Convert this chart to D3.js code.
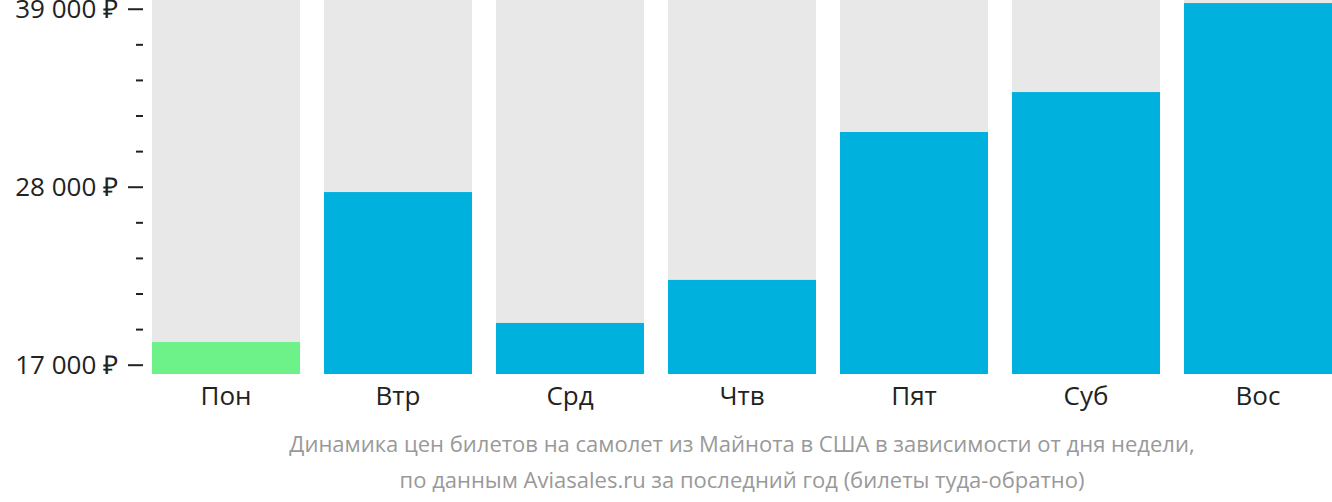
<!DOCTYPE html>
<html>
<head>
<meta charset="utf-8">
<script src="https://cdn.jsdelivr.net/npm/d3@7"></script>
<style>
  html, body { margin: 0; padding: 0; background: #fff; }
  svg { display: block; font-family: "Open Sans", sans-serif; }
</style>
</head>
<body>
<svg id="chart" width="1332" height="502"></svg>
<script>
const categories = ["Пон", "Втр", "Срд", "Чтв", "Пят", "Суб", "Вос"];
const prices = [18400, 27670, 19580, 22240, 31380, 33850, 39350];
const highlight = [true, false, false, false, false, false, false];
const majorTicks = [17000, 28000, 39000];
const minorTicks = [19200, 21400, 23600, 25800, 30200, 32400, 34600, 36800];
const captionLines = [
  "Динамика цен билетов на самолет из Майнота в США в зависимости от дня недели,",
  "по данным Aviasales.ru за последний год (билеты туда-обратно)"
];

const svg = d3.select("#chart");
const plotLeft = 152, plotRight = 1332, plotTop = 0, plotBottom = 374;

const x = d3.scaleBand().domain(categories).range([plotLeft, plotRight]).paddingInner(0.1395).paddingOuter(0);
const y = d3.scaleLinear().domain([16425, 39540]).range([plotBottom, plotTop]);

// background bars
svg.append("g").selectAll("rect").data(categories).join("rect")
  .attr("x", d => x(d)).attr("width", x.bandwidth())
  .attr("y", plotTop).attr("height", plotBottom - plotTop)
  .attr("fill", "#e8e8e8");

// value bars
svg.append("g").selectAll("rect").data(prices).join("rect")
  .attr("x", (d, i) => x(categories[i])).attr("width", x.bandwidth())
  .attr("y", d => y(d)).attr("height", d => plotBottom - y(d))
  .attr("fill", (d, i) => highlight[i] ? "#6cf288" : "#00b0dd");

// y axis major
const fmt = v => d3.format(",")(v).replace(/,/g, "\u00a0") + " ₽";
const yAxis = d3.axisLeft(y).tickValues(majorTicks).tickSize(15).tickPadding(10).tickFormat(fmt);
const gy = svg.append("g").attr("transform", `translate(${plotLeft - 9},0)`).call(yAxis);
gy.select(".domain").remove();
gy.selectAll(".tick line").attr("stroke", "#222").attr("stroke-width", 2);
gy.selectAll(".tick text").attr("fill", "#222").style("font-size", "26px")
  .style("font-family", '"Open Sans", sans-serif').attr("dy", "0.34em");

const yMinor = d3.axisLeft(y).tickValues(minorTicks).tickSize(7).tickFormat("");
const gm = svg.append("g").attr("transform", `translate(${plotLeft - 9},0)`).call(yMinor);
gm.select(".domain").remove();
gm.selectAll(".tick line").attr("stroke", "#222").attr("stroke-width", 2);

// x axis labels
const xAxis = d3.axisBottom(x).tickSize(0).tickPadding(13);
const gx = svg.append("g").attr("transform", `translate(0,${plotBottom})`).call(xAxis);
gx.select(".domain").remove();
gx.selectAll(".tick text").attr("fill", "#222").style("font-size", "26px")
  .style("font-family", '"Open Sans", sans-serif');

// caption
svg.append("g").selectAll("text").data(captionLines).join("text")
  .attr("x", (plotLeft + plotRight) / 2).attr("y", (d, i) => 452 + i * 36)
  .attr("text-anchor", "middle").attr("fill", "#999")
  .style("font-size", "22px").style("font-family", '"Open Sans", sans-serif')
  .text(d => d);
</script>
</body>
</html>
